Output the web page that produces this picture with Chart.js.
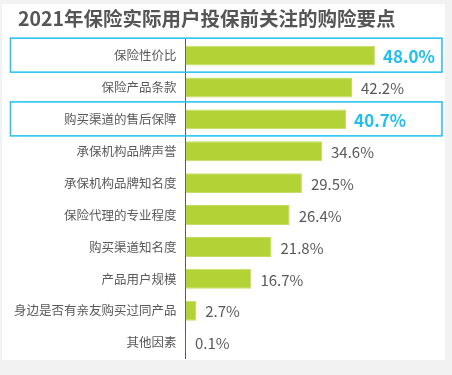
<!DOCTYPE html>
<html>
<head>
<meta charset="utf-8">
<script src="https://cdn.jsdelivr.net/npm/chart.js@4"></script>
<style>
  html, body { margin: 0; padding: 0; background: #f2f2f2; }
  #wrap { width: 452px; height: 375px; }
</style>
</head>
<body>
<div id="wrap"><canvas id="chart" width="452" height="375"></canvas></div>
<script>
/* ── DATA ── */
const chartTitle  = '2021年保险实际用户投保前关注的购险要点';
const categories  = ['保险性价比', '保险产品条款', '购买渠道的售后保障', '承保机构品牌声誉', '承保机构品牌知名度',
                     '保险代理的专业程度', '购买渠道知名度', '产品用户规模', '身边是否有亲友购买过同产品', '其他因素'];
const shares      = [48.0, 42.2, 40.7, 34.6, 29.5, 26.4, 21.8, 16.7, 2.7, 0.1];
const highlighted = [0, 2];

const FONT   = '"Noto Sans CJK SC", "Noto Sans", sans-serif';
const GRAY   = '#595959';
const CYAN   = '#1fbff0';

/* ── PLUGINS ── */
const panelBg = {
  id: 'panelBg',
  beforeDraw(chart) {
    const ctx = chart.ctx;
    ctx.save();
    ctx.fillStyle = '#ffffff';
    ctx.fillRect(2, 4, 443, 356);
    // title
    ctx.fillStyle = '#555555';
    ctx.font = 'bold 19.5px ' + FONT;
    ctx.textBaseline = 'middle';
    ctx.textAlign = 'left';
    ctx.fillText(chartTitle, 18, 19);
    ctx.restore();
  }
};

const highlightBoxes = {
  id: 'highlightBoxes',
  afterDraw(chart) {
    const ctx = chart.ctx;
    const y = chart.scales.y;
    ctx.save();
    ctx.strokeStyle = CYAN;
    ctx.lineWidth = 1.5;
    highlighted.forEach(i => {
      const cy = y.getPixelForValue(i);
      ctx.strokeRect(10.5, cy - 17.5, 431.5, 34);
    });
    ctx.restore();
  }
};

const valueLabels = {
  id: 'valueLabels',
  afterDatasetsDraw(chart) {
    const ctx = chart.ctx;
    const meta = chart.getDatasetMeta(0);
    ctx.save();
    ctx.textBaseline = 'middle';
    ctx.textAlign = 'left';
    meta.data.forEach((bar, i) => {
      const hi = highlighted.includes(i);
      ctx.fillStyle = hi ? CYAN : GRAY;
      ctx.font = hi ? 'bold 17px ' + FONT : '15px ' + FONT;
      ctx.fillText(shares[i].toFixed(1) + '%', bar.x + (hi ? 8 : 9), bar.y + 1);
    });
    ctx.restore();
  }
};

/* ── CHART ── */
new Chart(document.getElementById('chart'), {
  type: 'bar',
  data: {
    labels: categories,
    datasets: [{
      data: shares,
      backgroundColor: '#b2d235',
      borderColor: '#c4dd63',
      borderWidth: 1,
      borderSkipped: 'left',
      categoryPercentage: 1,
      barPercentage: 0.625
    }]
  },
  options: {
    indexAxis: 'y',
    responsive: false,
    animation: false,
    layout: { padding: { left: 4, right: 10, top: 39.7, bottom: 15.3 } },
    plugins: {
      legend: { display: false },
      tooltip: { enabled: false },
      title: { display: false }
    },
    scales: {
      x: { display: false, min: 0, max: 65 },
      y: {
        grid: { display: false, drawTicks: false },
        border: { display: true, color: GRAY, width: 1 },
        ticks: { color: GRAY, padding: 9, font: { family: FONT, size: 12.5 } },
        afterFit(scale) { scale.width = 181.5; }
      }
    }
  },
  plugins: [panelBg, highlightBoxes, valueLabels]
});
</script>
</body>
</html>
